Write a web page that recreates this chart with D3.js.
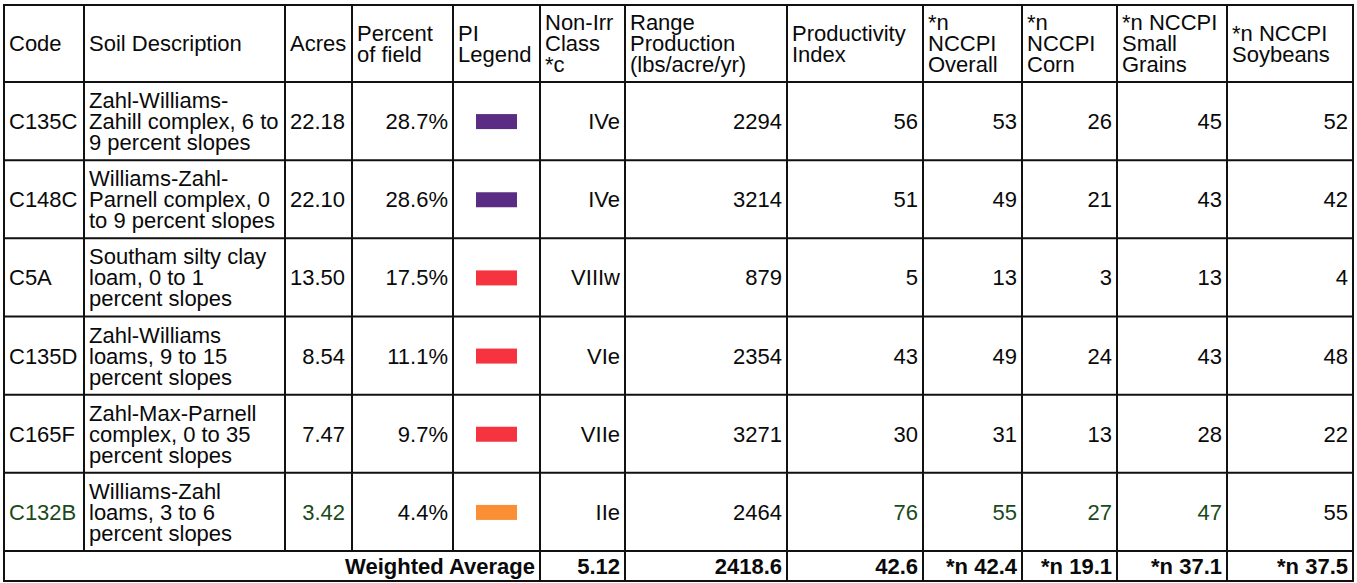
<!DOCTYPE html>
<html>
<head>
<meta charset="utf-8">
<script src="https://cdn.jsdelivr.net/npm/d3@7"></script>
<style>
  body { margin: 0; background: #fff; }
  svg { display: block; font-family: "Liberation Sans", Arial, sans-serif; }
  .grid { stroke: #111; stroke-width: 2; fill: none; }
</style>
</head>
<body>
<svg width="1357" height="583"></svg>
<script>
// ---- data ----
var headers = [
  ["Code"], ["Soil Description"], ["Acres"], ["Percent", "of field"], ["PI", "Legend"],
  ["Non-Irr", "Class", "*c"], ["Range", "Production", "(lbs/acre/yr)"], ["Productivity", "Index"],
  ["*n", "NCCPI", "Overall"], ["*n", "NCCPI", "Corn"], ["*n NCCPI", "Small", "Grains"], ["*n NCCPI", "Soybeans"]
];
var codes = ["C135C", "C148C", "C5A", "C135D", "C165F", "C132B"];
var descriptions = [
  ["Zahl-Williams-", "Zahill complex, 6 to", "9 percent slopes"],
  ["Williams-Zahl-", "Parnell complex, 0", "to 9 percent slopes"],
  ["Southam silty clay", "loam, 0 to 1", "percent slopes"],
  ["Zahl-Williams", "loams, 9 to 15", "percent slopes"],
  ["Zahl-Max-Parnell", "complex, 0 to 35", "percent slopes"],
  ["Williams-Zahl", "loams, 3 to 6", "percent slopes"]
];
var acres = [22.18, 22.10, 13.50, 8.54, 7.47, 3.42];
var percentField = [28.7, 28.6, 17.5, 11.1, 9.7, 4.4];
var legendColors = ["#5b2c83", "#5b2c83", "#f6343f", "#f6343f", "#f6343f", "#fa8f36"];
var nonIrrClass = ["IVe", "IVe", "VIIIw", "VIe", "VIIe", "IIe"];
var rangeProduction = [2294, 3214, 879, 2354, 3271, 2464];
var productivityIndex = [56, 51, 5, 43, 30, 76];
var nccpiOverall = [53, 49, 13, 49, 31, 55];
var nccpiCorn = [26, 21, 3, 24, 13, 27];
var nccpiSmallGrains = [45, 43, 13, 43, 28, 47];
var nccpiSoybeans = [52, 42, 4, 48, 22, 55];
var weightedLabel = "Weighted Average";
var weightedValues = ["5.12", "2418.6", "42.6", "*n 42.4", "*n 19.1", "*n 37.1", "*n 37.5"];
// cells drawn in green in the last row
var greenCells = { 5: ["code", "acres", "pi", "overall", "corn", "small"] };

// ---- layout ----
var colEdges = [4, 84, 285, 352, 453, 540, 625, 787, 923, 1022, 1117, 1227, 1353];
var tableTop = 5, headerBottom = 82, bodyBottom = 551, tableBottom = 581;
var fontSize = 22, lineGap = 21, pad = 5;
var green = "#1a4a1a";

var svg = d3.select("svg");

var y = d3.scaleBand()
    .domain(d3.range(codes.length))
    .range([headerBottom, bodyBottom]);

var colLeft = function(i) { return colEdges[i]; };
var colRight = function(i) { return colEdges[i + 1]; };

function multiline(g, lines, x, cy, anchor, color, weight) {
  var t = g.append("text")
      .attr("text-anchor", anchor)
      .attr("font-size", fontSize)
      .attr("font-weight", weight || "normal")
      .attr("fill", color || "#0a0a0a");
  var off = (lines.length - 1) / 2;
  lines.forEach(function(l, k) {
    t.append("tspan")
        .attr("x", x)
        .attr("y", cy + (k - off) * lineGap)
        .attr("dy", "0.36em")
        .text(l);
  });
}

// header
var gh = svg.append("g");
headers.forEach(function(h, i) {
  multiline(gh, h, colLeft(i) + pad, (tableTop + headerBottom) / 2, "start");
});

// body rows
var fmt2 = d3.format(".2f"), fmt1 = d3.format(".1f");
var rows = svg.append("g").selectAll("g")
    .data(codes)
    .join("g");

rows.each(function(code, r) {
  var g = d3.select(this);
  var cy = y(r) + y.bandwidth() / 2;
  var gl = greenCells[r] || [];
  var col = function(k) { return gl.indexOf(k) >= 0 ? green : "#0a0a0a"; };
  multiline(g, [code], colLeft(0) + pad, cy, "start", col("code"));
  multiline(g, descriptions[r], colLeft(1) + pad, cy, "start");
  multiline(g, [fmt2(acres[r])], colRight(2) - pad - 2, cy, "end", col("acres"));
  multiline(g, [fmt1(percentField[r]) + "%"], colRight(3) - pad, cy, "end");
  g.append("rect")
      .attr("x", (colLeft(4) + colRight(4)) / 2 - 20.5)
      .attr("y", cy - 7)
      .attr("width", 41)
      .attr("height", 15)
      .attr("fill", legendColors[r]);
  multiline(g, [nonIrrClass[r]], colRight(5) - pad, cy, "end");
  multiline(g, [String(rangeProduction[r])], colRight(6) - pad, cy, "end");
  multiline(g, [String(productivityIndex[r])], colRight(7) - pad, cy, "end", col("pi"));
  multiline(g, [String(nccpiOverall[r])], colRight(8) - pad, cy, "end", col("overall"));
  multiline(g, [String(nccpiCorn[r])], colRight(9) - pad, cy, "end", col("corn"));
  multiline(g, [String(nccpiSmallGrains[r])], colRight(10) - pad, cy, "end", col("small"));
  multiline(g, [String(nccpiSoybeans[r])], colRight(11) - pad, cy, "end");
});

// weighted average row
var gw = svg.append("g");
var wy = (bodyBottom + tableBottom) / 2;
multiline(gw, [weightedLabel], colRight(4) - pad, wy, "end", "#0a0a0a", "bold");
weightedValues.forEach(function(v, k) {
  multiline(gw, [v], colRight(5 + k) - pad, wy, "end", "#0a0a0a", "bold");
});

// grid lines
var grid = svg.append("g").attr("class", "grid");
grid.append("rect")
    .attr("x", colEdges[0]).attr("y", tableTop)
    .attr("width", colEdges[colEdges.length - 1] - colEdges[0])
    .attr("height", tableBottom - tableTop);
var hLines = [headerBottom].concat(d3.range(1, codes.length + 1).map(function(i) {
  return i < codes.length ? y(i) : bodyBottom;
}));
grid.selectAll("line.h")
    .data(hLines)
    .join("line")
    .attr("class", "h")
    .attr("x1", colEdges[0]).attr("x2", colEdges[colEdges.length - 1])
    .attr("y1", function(d) { return d; }).attr("y2", function(d) { return d; });
grid.selectAll("line.v")
    .data(colEdges.slice(1, -1))
    .join("line")
    .attr("class", "v")
    .attr("x1", function(d) { return d; }).attr("x2", function(d) { return d; })
    .attr("y1", tableTop)
    .attr("y2", function(d, i) { return i + 1 >= 5 ? tableBottom : bodyBottom; });
</script>
</body>
</html>
